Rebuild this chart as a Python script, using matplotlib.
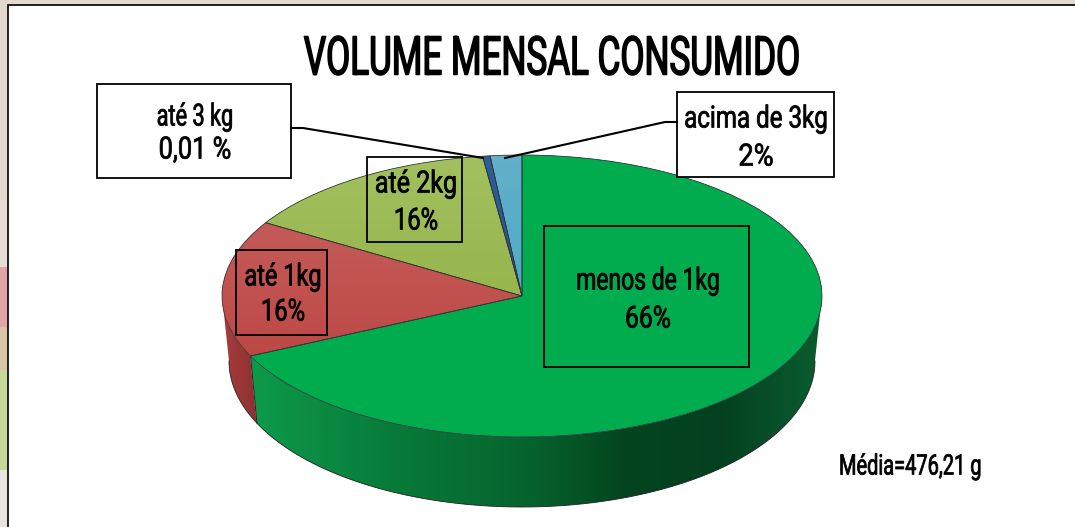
import numpy as np
import matplotlib
matplotlib.use("Agg")
import matplotlib.pyplot as plt
from matplotlib.patches import Rectangle, Polygon, Wedge
from matplotlib.colors import LinearSegmentedColormap, to_rgb
from matplotlib.patheffects import AbstractPathEffect
from matplotlib.transforms import Affine2D

W, H = 1075, 527
FONT = ['Roboto', 'DejaVu Sans']

# Data: drawn shares of the slices and their printed labels
categories = ['menos de 1kg', 'até 1kg', 'até 2kg', 'até 3 kg', 'acima de 3kg']
slice_shares = [68.0, 15.7, 14.2, 0.4, 1.7]
printed_labels = ['66%', '16%', '16%', '0,01 %', '2%']
title_text = 'VOLUME MENSAL CONSUMIDO'
note_text = 'Média=476,21 g'


class Squeeze(AbstractPathEffect):
    """Narrows a text horizontally about its anchor and thickens it slightly."""
    def __init__(self, sx, xc, lw=0.55):
        super().__init__()
        self.sx, self.xc, self.lw = sx, xc, lw

    def draw_path(self, renderer, gc, tpath, affine, rgbFace):
        t = affine + Affine2D().translate(-self.xc, 0).scale(self.sx, 1).translate(self.xc, 0)
        g = renderer.new_gc()
        g.copy_properties(gc)
        g.set_linewidth(self.lw)
        g.set_foreground('black')
        renderer.draw_path(g, tpath, t, rgbFace)
        g.restore()


fig = plt.figure(figsize=(W / 100, H / 100), dpi=100)

def px_axes(z):
    a = fig.add_axes([0, 0, 1, 1], zorder=z)
    a.set_xlim(0, W); a.set_ylim(H, 0); a.axis('off')
    return a

# --- background and frame
bg = px_axes(0)
bg.add_patch(Rectangle((0, 0), W, H, fc='#e3d9ce', ec='none'))
for y0, y1, c in [(200, 267, '#e8dcd6'), (267, 327, '#e2a5a5'), (327, 370, '#dcc4a8'),
                  (370, 470, '#c8d89a'), (470, 527, '#e8e4e2')]:
    bg.add_patch(Rectangle((0, y0), 8, y1 - y0, fc=c, ec='none'))
bg.add_patch(Rectangle((8, 5), W, H, fc='white', ec='#111111', lw=1.3))

# --- pie: data units are the radii of the top-face ellipse
cx, cy, rx, ry = 522, 296, 300, 141
ax = fig.add_axes([0, 0, 1, 1], zorder=1)
wedges, _ = ax.pie(slice_shares, startangle=90, counterclock=False, radius=1)
lims = ((0 - cx) / rx, (W - cx) / rx, (cy - H) / ry, cy / ry)
ax.set_aspect('auto')
ax.patch.set_visible(False)

# side wall: lower ellipse relative to the top one
bx, by_off, by = 293 / rx, -65 / ry, 146 / ry
boundary = wedges[0].theta1 % 360


def wall(t0, t1):
    t = np.radians(np.arange(t0, t1 + 0.5, 1.0))
    top = np.c_[np.cos(t), np.sin(t)]
    bot = np.c_[bx * np.cos(t), by_off + by * np.sin(t)][::-1]
    return Polygon(np.r_[top, bot], closed=True, fc='none', ec='none', transform=ax.transData)


green_x = [-0.9, -0.41, 0.0, 0.34, 0.66, 0.96]
green_c = ['#0e9a4a', '#067a38', '#06652f', '#03451f', '#03401f', '#0a5a2e']
xx = np.linspace(-1, 1, 600)
grad = np.stack([np.interp(xx, green_x, np.array([to_rgb(c) for c in green_c])[:, i]) for i in range(3)], axis=1)
g_wall = wall(boundary, 360)
ax.add_patch(g_wall)
im = ax.imshow(grad[None, :, :], extent=(-1, 1, -1.5, 1), aspect='auto', zorder=0.5)
im.set_clip_path(g_wall)
r_wall = wall(180, boundary)
ax.add_patch(r_wall)
red_cmap = LinearSegmentedColormap.from_list('r', ['#a83e3e', '#8e2f2f'])
im = ax.imshow(np.linspace(0, 1, 64).reshape(1, -1), extent=(-1, -0.88, -1.5, 1), cmap=red_cmap,
               aspect='auto', zorder=0.5)
im.set_clip_path(r_wall)

ts = np.radians(np.arange(180, 360.5, 1))
ax.plot(bx * np.cos(ts), by_off + by * np.sin(ts), color='#222222', lw=0.6, zorder=0.7)
tb = np.radians(boundary)
ax.plot([np.cos(tb), bx * np.cos(tb)], [np.sin(tb), by_off + by * np.sin(tb)],
        color='#222222', lw=0.7, zorder=0.7)

# top face gradients
grads = [('#00ac4e', '#00ac4e'), ('#c86462', '#b93e3b'), ('#a2c05e', '#8cab3c'),
         ('#2a5f9a', '#1f4e86'), ('#62b0c8', '#38a8cc')]
for w, (c_top, c_bot) in zip(wedges, grads):
    cmap = LinearSegmentedColormap.from_list('g', [c_top, c_bot])
    w.set_edgecolor('none')
    im = ax.imshow(np.linspace(0, 1, 64).reshape(-1, 1), extent=(-1, 1, -1, 1), cmap=cmap,
                   aspect='auto', origin='upper', zorder=1)
    im.set_clip_path(w)
    ax.add_patch(Wedge((0, 0), 1, w.theta1, w.theta2, fill=False, ec='#333333', lw=0.55, zorder=1.5))
ax.set_xlim(lims[0], lims[1]); ax.set_ylim(lims[2], lims[3])

# --- overlays
ov = px_axes(2)
boxes = [(544, 226, 749, 367), (236, 250, 327, 335), (367, 157, 462, 242), (97, 84, 291, 178), (677, 92, 834, 177)]
label_y = [(281, 319), (277, 312), (184, 221), (117, 150), (119, 157)]
label_x = [648, 283, 416, 195, 756]
squeeze_a = [0.75, 0.77, 0.82, 0.71, 0.79]
squeeze_b = [0.81, 0.78, 0.78, 0.83, 0.89]


def put(x, y, s, sx, size, ha='center', lw=0.55):
    t = ov.text(x, y, s, ha=ha, va='center', fontsize=size, family=FONT, color='black')
    t.set_path_effects([Squeeze(sx, x, lw)])
    return t


for (x0, y0, x1, y1), n, p, (ya, yb), xc, sa, sb in zip(boxes, categories, printed_labels, label_y, label_x,
                                                        squeeze_a, squeeze_b):
    white = n in ('até 3 kg', 'acima de 3kg')
    ov.add_patch(Rectangle((x0, y0), x1 - x0, y1 - y0, fc='white' if white else 'none', ec='black', lw=1.3))
    put(xc, ya, n, sa, 22)
    put(xc, yb, p, sb, 22)
ov.plot([291, 303, 483], [128, 128, 158], color='black', lw=1.5, solid_joinstyle='miter')
ov.plot([677, 665, 505], [122, 122, 158], color='black', lw=1.5, solid_joinstyle='miter')

put(552, 60, title_text, 0.655, 38.5, lw=1.1)
put(839, 467, note_text, 0.71, 20.3, ha='left')

fig.savefig('out.png', dpi=100)
